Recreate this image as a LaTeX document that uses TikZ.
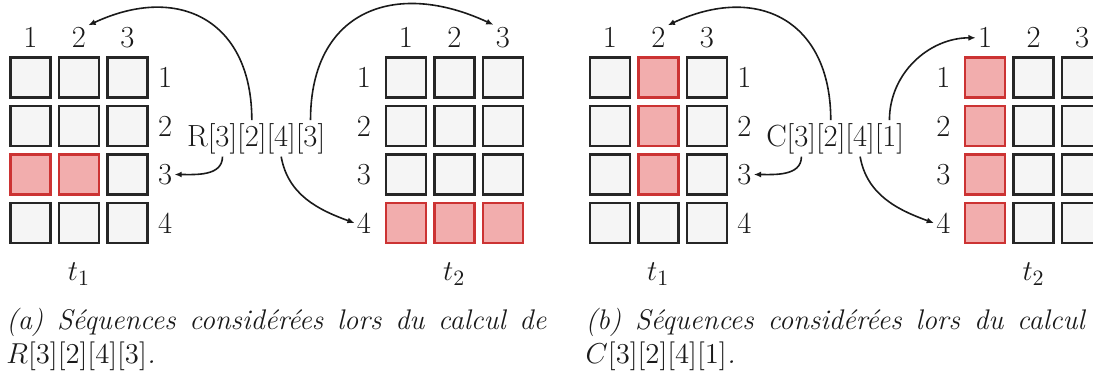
\documentclass[tikz,border=0pt]{standalone}
\usetikzlibrary{arrows.meta,positioning}
\definecolor{CellFill}{HTML}{F5F5F5}
\definecolor{CellLine}{HTML}{262626}
\definecolor{HotFill}{HTML}{F2ADAD}
\definecolor{HotLine}{HTML}{CC3333}
\definecolor{Ink}{HTML}{1A1A1A}

\begin{document}
\begin{tikzpicture}[x=0.5pt, y=-0.5pt, >={Latex[length=3.6pt,width=3pt]}, font=\fontsize{15.3}{18}\selectfont]
\tikzset{cell/.style={draw=CellLine, fill=CellFill, line width=1.2pt, minimum size=20pt, inner sep=0pt}, hot/.style={cell, draw=HotLine, fill=HotFill}, num/.style={inner sep=1pt, text=Ink}, idx/.style={inner xsep=0pt, inner ysep=1.5pt, outer sep=0pt, text=Ink, anchor=base west}, link/.style={->, line width=0.8pt, draw=Ink}, capt/.style={font=\fontsize{14.2}{17}\selectfont\itshape, text width=270pt, align=justify, inner sep=0pt, anchor=base west, text=Ink}}
\useasboundingbox (0,0) rectangle (1093,371);
\clip (0,0) rectangle (1093,371);
% grids t1 and t2 of both panels
\foreach \p/\dx in {a/0,b/579.3} {
  \foreach \g/\gx in {1/30.5,2/405.8} {
    \foreach \r in {1,...,4} \foreach \c in {1,2,3}
      \node[cell] (\p\g-\r-\c) at (\gx+\dx+48.5*\c-48.5, 29+48.5*\r) {};
    \foreach \c in {1,2,3} \node[num, above=3pt of \p\g-1-\c] (\p\g-c\c) {\c};
    \node[num, below=8.2pt of \p\g-4-2] (\p\g-t) {$t_\g$};
  }
  \foreach \r in {1,...,4} {
    \node[num, right=3.5pt of \p1-\r-3] (\p1-r\r) {\r};
    \node[num, left=5.6pt of \p2-\r-1] (\p2-r\r) {\r};
  }
}
% selected cells
\foreach \n in {a1-3-1,a1-3-2,a2-4-1,a2-4-2,a2-4-3,b1-1-2,b1-2-2,b1-3-2,b2-1-1,b2-2-1,b2-3-1,b2-4-1}
  \node[hot] (h-\n) at (\n) {};
% index labels and their arrows
\foreach \p/\x/\L/\last in {a/187/R/3,b/766.3/C/1} {
  \node[idx] (\p-L) at (\x,146) {\L};
  \node[idx] (\p-i1) at (\p-L.base east) {[3]};
  \node[idx] (\p-i2) at (\p-i1.base east) {[2]};
  \node[idx] (\p-i3) at (\p-i2.base east) {[4]};
  \node[idx] (\p-i4) at (\p-i3.base east) {[\last]};
  \draw[link] (\p-i2.north) to[out=90, in=25, looseness=1.35] (\p1-c2.north east);
  \draw[link] (\p-i1.south) to[out=-90, in=0] (\p1-r3.east);
  \draw[link] (\p-i3.south) to[out=-80, in=160] (\p2-r4.west);
}
\draw[link] (a-i4.north) to[out=90, in=155, looseness=1.35] (a2-c3.north west);
\draw[link] (b-i4.north) to[out=90, in=180] (b2-c1.west);
% captions
\node[capt] (a-cap) at (6,329) {(a) Séquences considérées lors du calcul de\linebreak $R[3][2][4][3]$.};
\node[capt] (b-cap) at (585.3,329) {(b) Séquences considérées lors du calcul de\linebreak $C[3][2][4][1]$.};
\end{tikzpicture}
\end{document}
